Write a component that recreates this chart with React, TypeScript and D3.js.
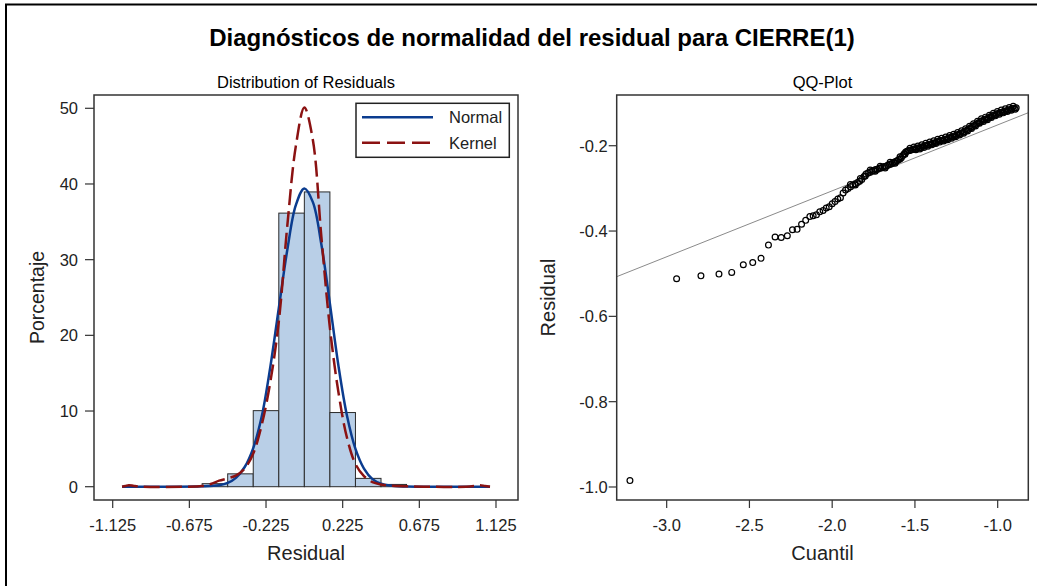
import React from "react";
import * as d3 from "d3";

// ---------- DATA ----------
const histBinStart = [-0.6, -0.45, -0.3, -0.15, 0, 0.15, 0.3, 0.45];
const histBinEnd = [-0.45, -0.3, -0.15, 0, 0.15, 0.3, 0.45, 0.6];
const histPercent = [0.4, 1.7, 10.05, 36.15, 38.95, 9.8, 1.1, 0.3];

const normalX = [-1.07, -0.8, -0.6, -0.5, -0.45, -0.4, -0.35, -0.3, -0.25, -0.2, -0.15, -0.1, -0.05, 0, 0.05, 0.1, 0.15, 0.2, 0.25, 0.3, 0.35, 0.4, 0.45, 0.5, 0.6, 0.8, 1.09];
const normalY = [0, 0, 0.05, 0.2, 0.5, 1.2, 2.6, 5.1, 9.3, 15.8, 23.6, 31.3, 37.2, 39.4, 37.6, 32.0, 24.2, 16.0, 9.4, 5.0, 2.4, 1.0, 0.4, 0.15, 0.03, 0, 0];

const kernelX = [-1.07, -1.05, -1.03, -1.0, -0.95, -0.7, -0.6, -0.55, -0.5, -0.45, -0.4, -0.35, -0.3, -0.25, -0.2, -0.15, -0.1, -0.05, 0, 0.05, 0.1, 0.15, 0.2, 0.25, 0.3, 0.35, 0.4, 0.45, 0.5, 0.6, 0.7, 0.95, 1.0, 1.03, 1.06, 1.09];
const kernelY = [0, 0.1, 0.2, 0.1, 0, 0, 0.1, 0.35, 0.8, 1.1, 1.5, 2.4, 4.4, 8.2, 13.8, 21.8, 34.5, 45.0, 50.1, 45.8, 33.0, 21.0, 12.5, 6.5, 3.0, 1.4, 0.6, 0.3, 0.15, 0.05, 0, 0, 0.1, 0.2, 0.1, 0];

const histXTicks = [-1.125, -0.675, -0.225, 0.225, 0.675, 1.125];
const histYTicks = [0, 10, 20, 30, 40, 50];

const qqQuantile = [
  -3.222, -2.94, -2.793, -2.684, -2.607, -2.537, -2.48, -2.43, -2.385, -2.345, -2.308, -2.271, -2.24, -2.212,
  -2.185, -2.16, -2.135, -2.115, -2.095, -2.075, -2.055, -2.036, -2.018, -2.0, -1.983, -1.966, -1.95, -1.934,
  -1.919, -1.904, -1.889, -1.875, -1.861, -1.847, -1.834, -1.821, -1.808, -1.796, -1.784, -1.772, -1.76, -1.749,
  -1.738, -1.727, -1.716, -1.706, -1.695, -1.685, -1.675, -1.665, -1.655, -1.645, -1.636, -1.627, -1.617, -1.608,
  -1.599, -1.59, -1.582, -1.573, -1.565, -1.556, -1.548, -1.54, -1.532, -1.524,
  -1.512, -1.5, -1.488, -1.476, -1.464, -1.452, -1.44, -1.428, -1.416, -1.404, -1.392, -1.38, -1.368, -1.356,
  -1.344, -1.332, -1.32, -1.308, -1.296, -1.284, -1.272, -1.26, -1.248, -1.236, -1.224, -1.212, -1.2, -1.188,
  -1.176, -1.164, -1.152, -1.14, -1.128, -1.116, -1.104, -1.092, -1.08, -1.068, -1.056, -1.044, -1.032, -1.02,
  -1.008, -0.996, -0.984, -0.972, -0.96, -0.948, -0.936, -0.924, -0.912, -0.9, -0.888,
  -1.89, -1.86, -1.83, -1.8, -1.77, -1.74, -1.71, -1.68, -1.65, -1.62, -1.59, -1.56, -1.53,
  -1.506, -1.494, -1.482, -1.47, -1.458, -1.446, -1.434, -1.422, -1.41, -1.398, -1.386, -1.374, -1.362, -1.35,
  -1.338, -1.326, -1.314, -1.302, -1.29, -1.278, -1.266, -1.254, -1.242, -1.23, -1.218, -1.206, -1.194, -1.182,
  -1.17, -1.158, -1.146, -1.134, -1.122, -1.11, -1.098, -1.086, -1.074, -1.062, -1.05, -1.038, -1.026, -1.014,
  -1.002, -0.99, -0.978, -0.966, -0.954, -0.942, -0.93, -0.918, -0.906, -0.894,
];
const qqResidual = [
  -0.985, -0.512, -0.505, -0.501, -0.497, -0.479, -0.474, -0.464, -0.433, -0.414, -0.415, -0.411, -0.397, -0.396,
  -0.384, -0.375, -0.366, -0.364, -0.362, -0.355, -0.352, -0.346, -0.343, -0.336, -0.331, -0.325, -0.322, -0.311,
  -0.304, -0.3, -0.296, -0.292, -0.289, -0.286, -0.283, -0.279, -0.272, -0.266, -0.264, -0.262, -0.259, -0.258,
  -0.256, -0.255, -0.253, -0.252, -0.25, -0.249, -0.248, -0.246, -0.244, -0.243, -0.241, -0.239, -0.237, -0.235,
  -0.233, -0.231, -0.228, -0.223, -0.219, -0.215, -0.213, -0.212, -0.211, -0.21,
  -0.209, -0.207, -0.206, -0.205, -0.204, -0.202, -0.2, -0.199, -0.197, -0.196, -0.194, -0.193, -0.191, -0.189,
  -0.188, -0.187, -0.185, -0.184, -0.182, -0.18, -0.179, -0.177, -0.175, -0.173, -0.171, -0.169, -0.167, -0.164,
  -0.161, -0.158, -0.155, -0.152, -0.149, -0.146, -0.143, -0.141, -0.139, -0.137, -0.135, -0.132, -0.13, -0.128,
  -0.126, -0.124, -0.122, -0.121, -0.119, -0.118, -0.116, -0.115, -0.113, -0.112, -0.111,
  -0.291, -0.292, -0.277, -0.271, -0.257, -0.26, -0.248, -0.252, -0.239, -0.241, -0.226, -0.22, -0.206,
  -0.203, -0.2095, -0.2005, -0.2075, -0.198, -0.204, -0.1945, -0.201, -0.1915, -0.198, -0.1885, -0.195, -0.185, -0.1915,
  -0.1825, -0.189, -0.1795, -0.186, -0.176, -0.1825, -0.173, -0.179, -0.169, -0.175, -0.165, -0.171, -0.1605, -0.1655,
  -0.1545, -0.1595, -0.1485, -0.1535, -0.1425, -0.1475, -0.137, -0.143, -0.133, -0.139, -0.1285, -0.134, -0.124, -0.13,
  -0.12, -0.126, -0.1165, -0.123, -0.1135, -0.12, -0.1105, -0.117, -0.1075, -0.1145,
];
const qqRefX = [-3.302, -0.815];
const qqRefY = [-0.507, -0.1226];
const qqXTicks = [-3.0, -2.5, -2.0, -1.5, -1.0];
const qqYTicks = [-0.2, -0.4, -0.6, -0.8, -1.0];

// ---------- LAYOUT ----------
const W = 1037;
const H = 586;
const FONT = "'Liberation Sans', Arial, sans-serif";
const L = { x0: 94, x1: 518, y0: 95, y1: 500 };
const R = { x0: 616.7, x1: 1028.3, y0: 95, y1: 500 };
const TICK = 8;

const hyphen = (s: string) => s.replace(/\u2212/g, "-");

export default function App() {
  const hx = d3.scaleLinear().domain([-1.2348, 1.2542]).range([L.x0, L.x1]);
  const hy = d3.scaleLinear().domain([-1.757, 51.757]).range([L.y1, L.y0]);
  const qx = d3.scaleLinear().domain([-3.302, -0.815]).range([R.x0, R.x1]);
  const qy = d3.scaleLinear().domain([-1.0305, -0.0811]).range([R.y1, R.y0]);

  const curve = d3.line<[number, number]>()
    .x((d) => hx(d[0]))
    .y((d) => hy(d[1]))
    .curve(d3.curveCatmullRom.alpha(0.5));
  const normalPath = curve(normalX.map((x, i) => [x, normalY[i]] as [number, number])) || "";
  const kernelPath = curve(kernelX.map((x, i) => [x, kernelY[i]] as [number, number])) || "";

  const fmt1 = (v: number) => hyphen(d3.format(".1f")(v));
  const fmt3 = (v: number) => hyphen(d3.format(".3f")(v));

  return (
    <svg width={W} height={H} style={{ position: "absolute", left: 0, top: 0, background: "#fff" }} fontFamily={FONT}>
      <rect x={0} y={0} width={W} height={H} fill="#fff" />
      <path d={`M6,${H} V4.5 H${W}`} fill="none" stroke="#000" strokeWidth={2} />

      <text x={532} y={46} textAnchor="middle" fontSize={24} fontWeight="bold" fill="#000">
        Diagnósticos de normalidad del residual para CIERRE(1)
      </text>

      {/* ---------- Left: histogram ---------- */}
      <text x={(L.x0 + L.x1) / 2} y={88} textAnchor="middle" fontSize={16.5} fill="#000">
        Distribution of Residuals
      </text>
      <g>
        {histPercent.map((p, i) => (
          <rect
            key={i}
            x={hx(histBinStart[i])}
            y={hy(p)}
            width={hx(histBinEnd[i]) - hx(histBinStart[i])}
            height={hy(0) - hy(p)}
            fill="#B9CFE7"
            stroke="#2b2b2b"
            strokeWidth={1}
          />
        ))}
      </g>
      <path d={normalPath} fill="none" stroke="#0B3C8F" strokeWidth={2.5} />
      <path d={kernelPath} fill="none" stroke="#8B1212" strokeWidth={2.5} strokeDasharray="16,6" />
      <rect x={L.x0} y={L.y0} width={L.x1 - L.x0} height={L.y1 - L.y0} fill="none" stroke="#333" strokeWidth={1.5} />
      {histXTicks.map((t) => (
        <g key={t}>
          <line x1={hx(t)} x2={hx(t)} y1={L.y1} y2={L.y1 + TICK} stroke="#333" strokeWidth={1.2} />
          <text x={hx(t)} y={531} textAnchor="middle" fontSize={16.5} fill="#222">
            {fmt3(t)}
          </text>
        </g>
      ))}
      {histYTicks.map((t) => (
        <g key={t}>
          <line x1={L.x0 - 9} x2={L.x0} y1={hy(t)} y2={hy(t)} stroke="#333" strokeWidth={1.2} />
          <text x={L.x0 - 16} y={hy(t) + 6} textAnchor="end" fontSize={16.5} fill="#222">
            {t}
          </text>
        </g>
      ))}
      <text x={(L.x0 + L.x1) / 2} y={560} textAnchor="middle" fontSize={20} fill="#222">
        Residual
      </text>
      <text transform={`translate(44,${(L.y0 + L.y1) / 2}) rotate(-90)`} textAnchor="middle" fontSize={19.5} fill="#222">
        Porcentaje
      </text>

      {/* legend */}
      <rect x={356} y={103.3} width={153.3} height={54} fill="#fff" stroke="#222" strokeWidth={1.5} />
      <line x1={362} x2={433} y1={117.3} y2={117.3} stroke="#0B3C8F" strokeWidth={2.5} />
      <text x={449} y={123.3} fontSize={16.5} fill="#222">Normal</text>
      <line x1={362} x2={433} y1={142.7} y2={142.7} stroke="#8B1212" strokeWidth={2.5} strokeDasharray="18,7" />
      <text x={449} y={148.7} fontSize={16.5} fill="#222">Kernel</text>

      {/* ---------- Right: QQ plot ---------- */}
      <text x={(R.x0 + R.x1) / 2} y={88} textAnchor="middle" fontSize={16.5} fill="#000">
        QQ-Plot
      </text>
      <line x1={qx(qqRefX[0])} y1={qy(qqRefY[0])} x2={qx(qqRefX[1])} y2={qy(qqRefY[1])} stroke="#8a8a8a" strokeWidth={1} />
      {qqQuantile.map((q, i) => (
        <circle key={i} cx={qx(q)} cy={qy(qqResidual[i])} r={2.9} fill="none" stroke="#000" strokeWidth={1.2} />
      ))}
      <rect x={R.x0} y={R.y0} width={R.x1 - R.x0} height={R.y1 - R.y0} fill="none" stroke="#333" strokeWidth={1.5} />
      {qqXTicks.map((t) => (
        <g key={t}>
          <line x1={qx(t)} x2={qx(t)} y1={R.y1} y2={R.y1 + TICK} stroke="#333" strokeWidth={1.2} />
          <text x={qx(t)} y={531} textAnchor="middle" fontSize={16.5} fill="#222">
            {fmt1(t)}
          </text>
        </g>
      ))}
      {qqYTicks.map((t) => (
        <g key={t}>
          <line x1={R.x0 - 8} x2={R.x0} y1={qy(t)} y2={qy(t)} stroke="#333" strokeWidth={1.2} />
          <text x={R.x0 - 9} y={qy(t) + 6} textAnchor="end" fontSize={16.5} fill="#222">
            {fmt1(t)}
          </text>
        </g>
      ))}
      <text x={(R.x0 + R.x1) / 2} y={560} textAnchor="middle" fontSize={20} fill="#222">
        Cuantil
      </text>
      <text transform={`translate(555,${(R.y0 + R.y1) / 2}) rotate(-90)`} textAnchor="middle" fontSize={20} fill="#222">
        Residual
      </text>
    </svg>
  );
}
